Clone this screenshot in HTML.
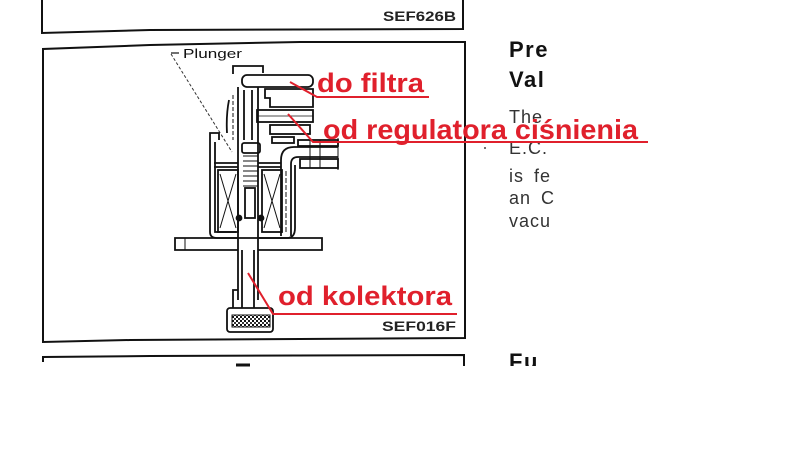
<!DOCTYPE html>
<html><head><meta charset="utf-8"><style>
html,body{margin:0;padding:0;background:#fff;width:800px;height:450px;overflow:hidden}
svg{display:block}
</style></head><body>
<svg width="800" height="450" viewBox="0 0 800 450" xmlns="http://www.w3.org/2000/svg">
<defs>
<clipPath id="col"><rect x="500" y="0" width="55" height="366"/></clipPath>
<pattern id="hatch" width="4" height="4" patternUnits="userSpaceOnUse">
<rect width="4" height="4" fill="#fff"/><rect width="2" height="2" fill="#111"/><rect x="2" y="2" width="2" height="2" fill="#333"/>
</pattern>
</defs>
<rect width="800" height="450" fill="#fff"/>

<g fill="none" stroke="#111" stroke-width="2">
<path d="M42,0 V33 L150,30 L463,29 V0"/>
<path d="M43,342 V49 L150,45 L300,42 L465,42 V338 L300,339 L130,340 Z"/>
<path d="M43,362 V357 L150,356 L464,355 V366"/>
<path d="M236,365 H250" stroke-width="3"/>
</g>
<text x="383" y="21" font-family="Liberation Sans, sans-serif" font-size="14" font-weight="bold" fill="#222" textLength="73" lengthAdjust="spacingAndGlyphs">SEF626B</text>
<text x="382" y="331" font-family="Liberation Sans, sans-serif" font-size="14" font-weight="bold" fill="#222" textLength="74" lengthAdjust="spacingAndGlyphs">SEF016F</text>

<text x="183" y="58" font-family="Liberation Sans, sans-serif" font-size="13" fill="#111" textLength="59" lengthAdjust="spacingAndGlyphs">Plunger</text>
<path d="M179,53 H171" stroke="#111" stroke-width="1.2"/>
<path d="M171,54 L232,152" stroke="#333" stroke-width="1" stroke-dasharray="3,2" fill="none"/>

<g fill="none" stroke="#111" stroke-width="1.8">
<path d="M233,74 V66 H263 V73"/>
<rect x="242" y="75" width="71" height="12" rx="5"/>
<path d="M313,89 H265 V98 H270 V107 H313 Z"/>
<rect x="257" y="110" width="56" height="12"/>
<path d="M257,116 H313" stroke-width="0.8"/>
<rect x="270" y="125" width="40" height="9"/>
<rect x="272" y="137" width="22" height="6"/>
<path d="M229,100 Q226,115 227,133"/>
<path d="M233,95 V140" stroke-width="1" stroke-dasharray="4,2"/>
<path d="M210,140 V133 H219 V140"/>
<path d="M238,87 V300 M258,87 V300 M244,90 V140 M252,90 V140"/>
<rect x="242" y="143" width="18" height="10" rx="2"/>
<path d="M243,156 H258 M243,161 H258 M243,166 H258 M243,171 H258 M243,176 H258 M243,181 H258 M243,186 H258" stroke-width="1"/>
<rect x="245" y="188" width="10" height="30"/>
<path d="M210,140 V232 Q210,238 217,238 H287"/>
<path d="M215,142 V232 H236"/>
<path d="M214,163 H238 M214,167 H238 M258,163 H281 M258,167 H281"/>
<rect x="218" y="170" width="20" height="62"/>
<path d="M220,174 L236,228 M236,174 L220,228" stroke-width="1"/>
<rect x="262" y="170" width="20" height="62"/>
<path d="M264,174 L280,228 M280,174 L264,228" stroke-width="1"/>
<circle cx="239" cy="218" r="2.5" fill="#111"/>
<circle cx="261" cy="218" r="2.5" fill="#111"/>
<path d="M281,236 V160 Q281,147 294,147 H338"/>
<path d="M291,236 V164 Q291,157 298,157 H338"/>
<path d="M286,232 V170" stroke-width="1" stroke-dasharray="5,2"/>
<rect x="298" y="140" width="40" height="6"/>
<rect x="300" y="159" width="38" height="9"/>
<path d="M338,138 V170 M320,140 V168 M310,140 V168" stroke-width="1"/>
<path d="M287,238 Q295,238 295,228 V165"/>
<path d="M238,238 H175 V250 H238 M258,238 H322 V250 H258"/>
<path d="M185,238 V250" stroke-width="1"/>
<path d="M242,250 V308 M254,250 V308"/>
<path d="M233,308 V290 H238"/>
<rect x="227" y="308" width="46" height="24" rx="3"/>
</g>
<rect x="232" y="315" width="38" height="12" fill="url(#hatch)" stroke="#111" stroke-width="1"/>

<g clip-path="url(#col)" font-family="Liberation Sans, sans-serif" fill="#111">
<text x="509" y="57" font-size="22" font-weight="bold" letter-spacing="1.5">Pre</text>
<text x="509" y="87" font-size="22" font-weight="bold" letter-spacing="1.5">Val</text>
<g fill="#333" font-size="18" letter-spacing="1">
<text x="509" y="123">The</text>
<text x="509" y="154">E.C.</text>
<text x="509" y="182" word-spacing="4">is fe</text>
<text x="509" y="204" word-spacing="4">an C</text>
<text x="509" y="227">vacu</text>
</g>
<text x="509" y="369" font-size="22" font-weight="bold" letter-spacing="1.5">Fu</text>
</g>
<circle cx="485" cy="148" r="1" fill="#444"/>

<g stroke="#e0202c" stroke-width="2" fill="none">
<path d="M290,82 L317,97 H429"/>
<path d="M288,114 L313,142 H648"/>
<path d="M248,273 L273,314 H457"/>
</g>
<g font-family="Liberation Sans, sans-serif" font-weight="bold" fill="#e0202c" font-size="27">
<text x="317" y="92" textLength="107" lengthAdjust="spacingAndGlyphs">do filtra</text>
<text x="323" y="139" font-size="28" textLength="315" lengthAdjust="spacingAndGlyphs">od regulatora ciśnienia</text>
<text x="278" y="305" textLength="174" lengthAdjust="spacingAndGlyphs">od kolektora</text>
</g>

<rect x="0" y="367" width="800" height="83" fill="#fff"/>
</svg>
</body></html>
